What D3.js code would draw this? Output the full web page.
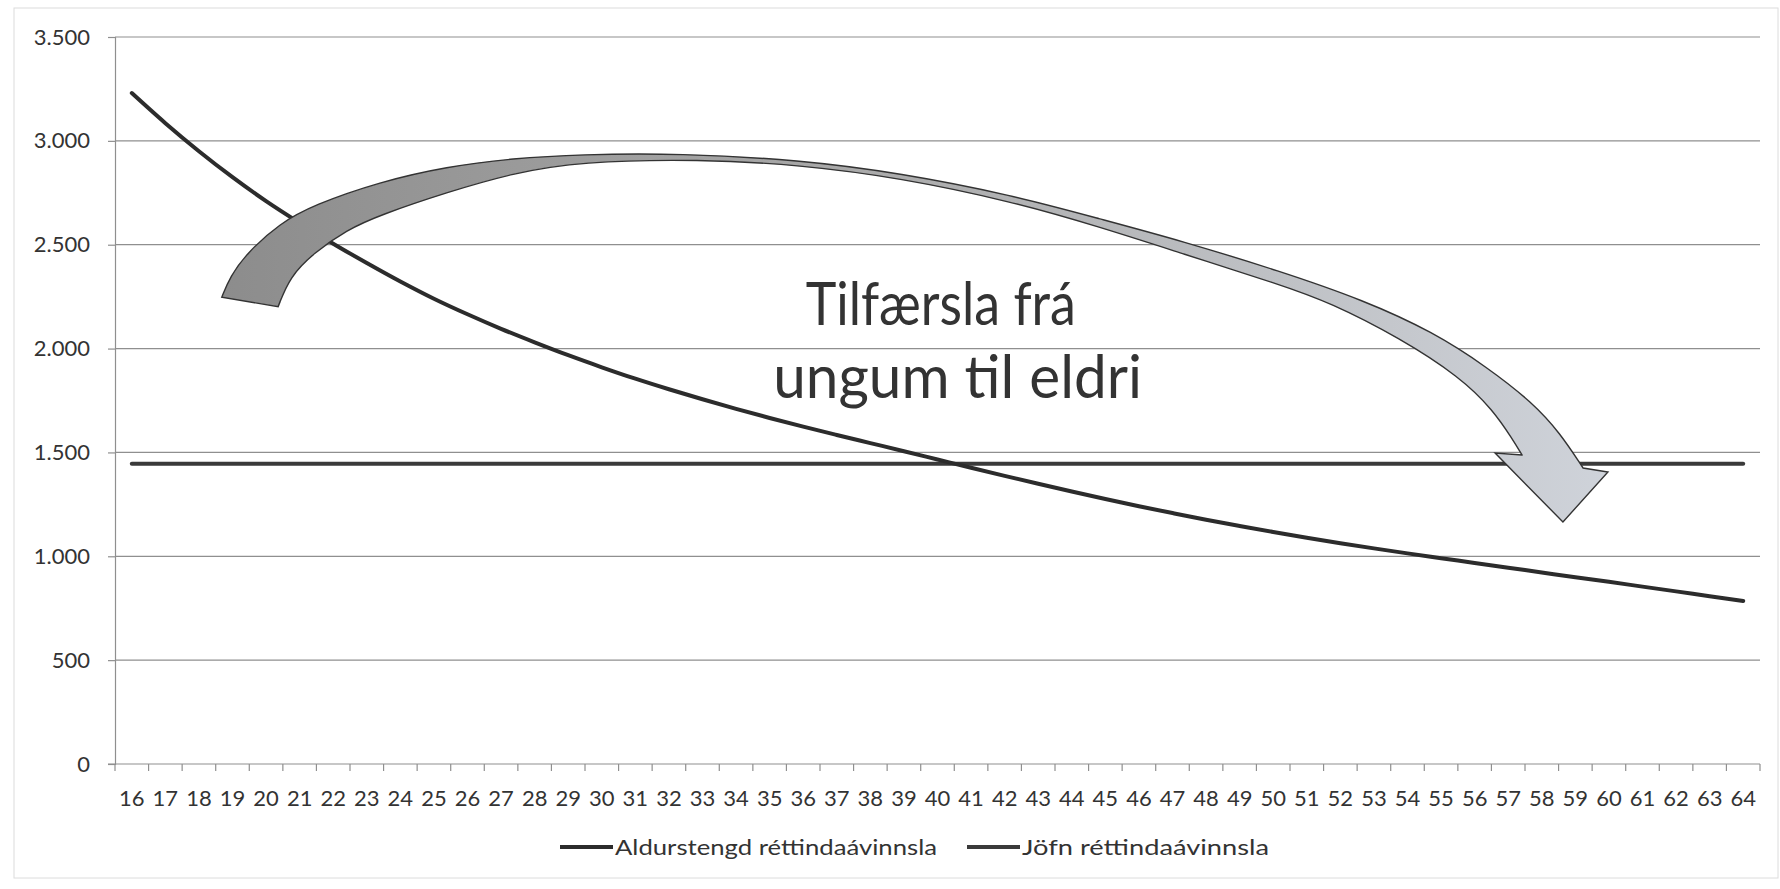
<!DOCTYPE html>
<html>
<head>
<meta charset="utf-8">
<script src="https://cdn.jsdelivr.net/npm/d3@7"></script>
<style>
  body { margin: 0; background: #fff; }
  svg { display: block; font-family: Lato, "Open Sans", sans-serif; }
</style>
</head>
<body>
<svg id="chart"></svg>
<script>
// ages on the x axis
const ages = [16, 17, 18, 19, 20, 21, 22, 23, 24, 25, 26, 27, 28, 29, 30, 31, 32,
  33, 34, 35, 36, 37, 38, 39, 40, 41, 42, 43, 44, 45, 46, 47, 48, 49, 50, 51, 52,
  53, 54, 55, 56, 57, 58, 59, 60, 61, 62, 63, 64];

// Aldurstengd réttindaávinnsla
const aldurstengd = [3230, 3085, 2950, 2825, 2710, 2605, 2505, 2412, 2323, 2240,
  2165, 2095, 2030, 1968, 1910, 1855, 1804, 1756, 1710, 1666, 1624, 1584, 1545,
  1506, 1466, 1426, 1387, 1349, 1312, 1276, 1241, 1208, 1176, 1146, 1117, 1089,
  1063, 1038, 1014, 991, 968, 945, 922, 899, 877, 854, 831, 808, 785];

// Jöfn réttindaávinnsla
const jofn = [1445, 1445, 1445, 1445, 1445, 1445, 1445, 1445, 1445, 1445, 1445,
  1445, 1445, 1445, 1445, 1445, 1445, 1445, 1445, 1445, 1445, 1445, 1445, 1445,
  1445, 1445, 1445, 1445, 1445, 1445, 1445, 1445, 1445, 1445, 1445, 1445, 1445,
  1445, 1445, 1445, 1445, 1445, 1445, 1445, 1445, 1445, 1445, 1445, 1445];

const yTicks = [0, 500, 1000, 1500, 2000, 2500, 3000, 3500];
const seriesNames = ["Aldurstengd réttindaávinnsla", "Jöfn réttindaávinnsla"];

// annotation arrow outline, in [age, value]
const arrowUpper = [[18.68, 2247], [18.93, 2346], [19.42, 2459], [20.41, 2603],
  [21.41, 2691], [23.39, 2803], [25.38, 2876], [27.36, 2916], [29.35, 2935],
  [32.33, 2940], [35.9, 2908], [38.88, 2845], [42.22, 2739], [44.84, 2624],
  [47.28, 2518], [50.2, 2373], [52.68, 2234], [54.76, 2080], [56.37, 1911],
  [57.74, 1738], [58.54, 1594], [59.23, 1425]];
const arrowHead = [[59.97, 1406], [58.63, 1165], [56.61, 1497], [57.41, 1488]];
const arrowLower = [[57.41, 1488], [57.14, 1560], [56.55, 1704], [55.56, 1863],
  [53.78, 2050], [51.69, 2222], [50.2, 2308], [47.28, 2458], [44.84, 2585],
  [42.22, 2708], [38.88, 2822], [35.9, 2884], [32.93, 2912], [29.35, 2900],
  [27.36, 2845], [25.38, 2752], [23.39, 2643], [22.4, 2571], [21.41, 2459],
  [20.71, 2346], [20.36, 2202]];
const noteLines = ["Tilfærsla frá", "ungum til eldri"];
const notePos = [[40.1, 2113], [40.6, 1762]];
const noteWidths = [270, 369];

const W = 1780, H = 889;
const margin = { top: 37, right: 20, bottom: 125, left: 115 };

const svg = d3.select("#chart").attr("width", W).attr("height", H);

const x = d3.scaleBand().domain(ages).range([margin.left, W - margin.right]);
const y = d3.scaleLinear().domain([0, 3500]).range([H - margin.bottom, margin.top]);
// continuous age -> pixel, same spacing as the bands
const xc = (a) => x(ages[0]) + x.bandwidth() / 2 + (a - ages[0]) * x.step();

const isl = d3.formatLocale({ decimal: ",", thousands: ".", grouping: [3], currency: ["", " kr"] });
const fmt = isl.format(",");

// outer frame
svg.append("rect")
  .attr("x", 14).attr("y", 8)
  .attr("width", W - 16).attr("height", H - 19)
  .attr("fill", "none")
  .attr("stroke", "#dcdcdc");

// gridlines
svg.append("g")
  .selectAll("line")
  .data(yTicks.filter((d) => d > 0))
  .join("line")
  .attr("x1", margin.left)
  .attr("x2", W - margin.right)
  .attr("y1", (d) => y(d))
  .attr("y2", (d) => y(d))
  .attr("stroke", "#8f8f8f")
  .attr("stroke-width", 1.2);

// y axis
const yAxis = svg.append("g")
  .attr("transform", `translate(${margin.left},0)`)
  .call(d3.axisLeft(y).tickValues(yTicks).tickFormat(fmt).tickSize(7).tickPadding(18));
yAxis.select(".domain").attr("stroke", "#8f8f8f").attr("stroke-width", 1.2);
yAxis.selectAll(".tick line").attr("stroke", "#8f8f8f").attr("stroke-width", 1.2);
yAxis.selectAll("text").attr("font-size", 22).attr("fill", "#333").attr("font-family", "Lato");

// x axis
const xAxis = svg.append("g")
  .attr("transform", `translate(0,${y(0)})`)
  .call(d3.axisBottom(x).tickSize(0).tickPadding(26));
xAxis.select(".domain").attr("stroke", "#8f8f8f").attr("stroke-width", 1.2)
  .attr("d", `M${margin.left - 7},0H${W - margin.right}`);
xAxis.selectAll("text").attr("font-size", 22).attr("fill", "#333").attr("font-family", "Lato");

// tick marks between categories
const bounds = ages.map((a) => x(a)).concat([x(ages[ages.length - 1]) + x.bandwidth()]);
xAxis.append("g")
  .selectAll("line")
  .data(bounds)
  .join("line")
  .attr("x1", (d) => d).attr("x2", (d) => d)
  .attr("y1", 0).attr("y2", 7)
  .attr("stroke", "#8f8f8f")
  .attr("stroke-width", 1.2);

// series lines
const line = d3.line()
  .x((d, i) => x(ages[i]) + x.bandwidth() / 2)
  .y((d) => y(d))
  .curve(d3.curveMonotoneX);

svg.append("path")
  .datum(jofn)
  .attr("fill", "none")
  .attr("stroke", "#3a3a3a")
  .attr("stroke-width", 4)
  .attr("stroke-linecap", "round")
  .attr("d", line);

svg.append("path")
  .datum(aldurstengd)
  .attr("fill", "none")
  .attr("stroke", "#2c2c2c")
  .attr("stroke-width", 4)
  .attr("stroke-linecap", "round")
  .attr("d", line);

// curved arrow annotation
const defs = svg.append("defs");
const grad = defs.append("linearGradient")
  .attr("id", "arrowGrad")
  .attr("gradientUnits", "userSpaceOnUse")
  .attr("x1", xc(18.5)).attr("x2", xc(60)).attr("y1", 0).attr("y2", 0);
grad.append("stop").attr("offset", 0).attr("stop-color", "#8c8c8c");
grad.append("stop").attr("offset", 0.45).attr("stop-color", "#a9a9a9");
grad.append("stop").attr("offset", 1).attr("stop-color", "#cfd3da");

const edge = d3.line()
  .x((d) => xc(d[0]))
  .y((d) => y(d[1]))
  .curve(d3.curveBasis);

const headPart = arrowHead.map((d) => `L${xc(d[0])},${y(d[1])}`).join("");
const arrowD = edge(arrowUpper) + headPart + edge(arrowLower).replace(/^M/, "L") + "Z";

svg.append("path")
  .attr("d", arrowD)
  .attr("fill", "url(#arrowGrad)")
  .attr("stroke", "#333")
  .attr("stroke-width", 1.4)
  .attr("stroke-linejoin", "miter");

// annotation text
svg.append("g")
  .selectAll("text")
  .data(noteLines)
  .join("text")
  .attr("x", (d, i) => xc(notePos[i][0]))
  .attr("y", (d, i) => y(notePos[i][1]))
  .attr("text-anchor", "middle")
  .attr("font-size", 60)
  .attr("textLength", (d, i) => noteWidths[i])
  .attr("lengthAdjust", "spacingAndGlyphs")
  .attr("fill", "#333")
  .text((d) => d);

// legend
const legendWidths = [322, 247];
const legend = svg.append("g").attr("transform", "translate(560,847)");
let lx = 0;
seriesNames.forEach((name, i) => {
  legend.append("line")
    .attr("x1", lx).attr("x2", lx + 53)
    .attr("y1", 0).attr("y2", 0)
    .attr("stroke", i === 0 ? "#2c2c2c" : "#3a3a3a")
    .attr("stroke-width", 4);
  legend.append("text")
    .attr("x", lx + 55)
    .attr("y", 0)
    .attr("dy", "0.35em")
    .attr("font-size", 22)
    .attr("textLength", legendWidths[i])
    .attr("lengthAdjust", "spacingAndGlyphs")
    .attr("fill", "#333")
    .text(name);
  lx += 55 + legendWidths[i] + 30;
});
</script>
</body>
</html>
